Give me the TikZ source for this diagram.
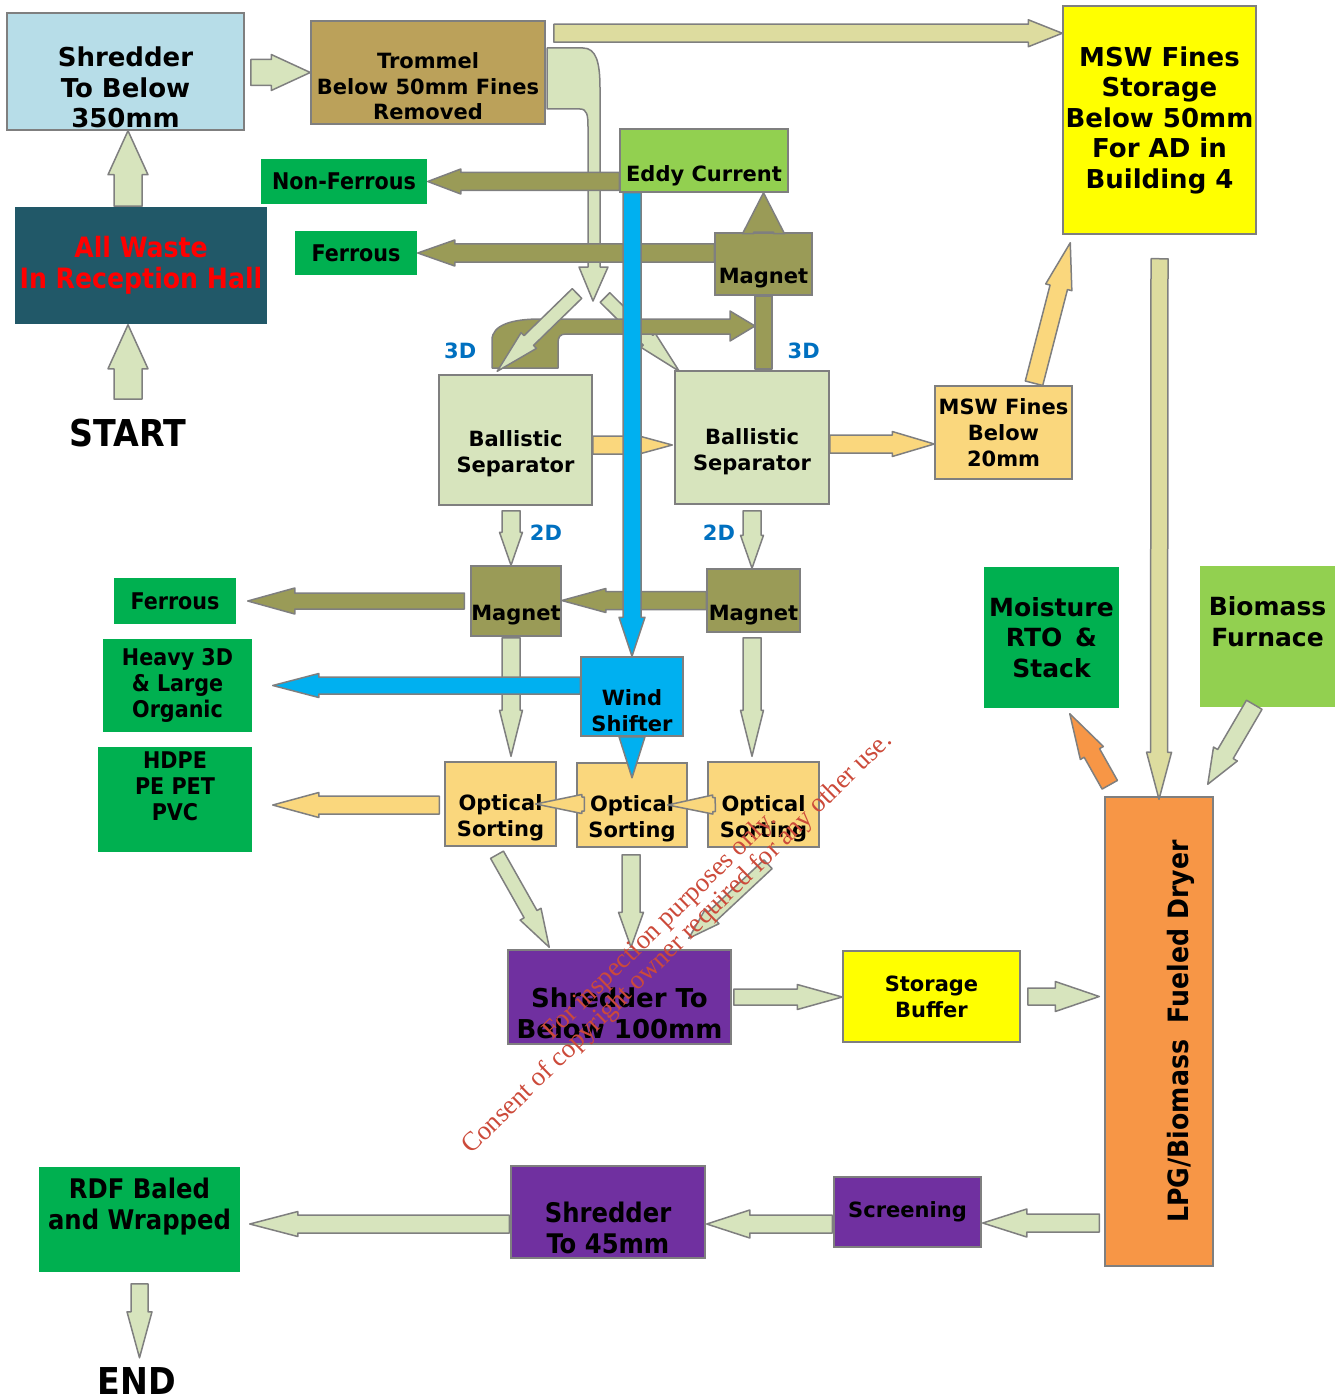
\documentclass[tikz,border=0pt]{standalone}
\usepackage{fontspec}
\usepackage{graphicx}
\setmainfont{DejaVu Sans}
\newfontfamily\narrowfont{DejaVu Sans Condensed}
\newfontfamily\stampfont{Liberation Serif}
\usepackage{tikz}
\usetikzlibrary{calc}

\definecolor{shredblue}{HTML}{B7DDE8}
\definecolor{trommeltan}{HTML}{BBA15A}
\definecolor{hallteal}{HTML}{215868}
\definecolor{sortgreen}{HTML}{00B050}
\definecolor{limegreen}{HTML}{92D050}
\definecolor{magolive}{HTML}{9A9B57}
\definecolor{palegreen}{HTML}{D7E4BD}
\definecolor{fineyellow}{HTML}{FAD77D}
\definecolor{storeyellow}{HTML}{FFFF00}
\definecolor{windblue}{HTML}{00B0F0}
\definecolor{shredpurple}{HTML}{7030A0}
\definecolor{dryerorange}{HTML}{F79646}
\definecolor{khaki}{HTML}{DDDC9F}
\definecolor{tagblue}{HTML}{0070C0}
\definecolor{edgegray}{HTML}{7F7F7F}
\definecolor{stampred}{HTML}{CC4A3A}

% block arrow: [fill]{tail}{tip}{shaft half width}{head half width}{head length}
\newcommand{\flow}[6][]{%
  \coordinate (ft) at (#2);
  \coordinate (fh) at (#3);
  \coordinate (fn) at ($(fh)!#6pt!(ft)$);
  \draw[flowline,#1] ($(ft)!#4pt!90:(fh)$) -- ($(fn)!#4pt!90:(fh)$)
    -- ($(fn)!#5pt!90:(fh)$) -- (fh) -- ($(fn)!#5pt!-90:(fh)$)
    -- ($(fn)!#4pt!-90:(fh)$) -- ($(ft)!#4pt!-90:(fh)$) -- cycle;
}

\begin{document}
\begin{tikzpicture}[x=0.5pt,y=-0.5pt,
    box/.style={draw=edgegray, line width=0.75pt, align=center, inner sep=0pt},
    flat/.style={box, draw=none},
    txtbig/.style={font=\fontsize{13}{15.25}\selectfont\bfseries},
    txtsmall/.style={font=\fontsize{10.5}{13}\selectfont\bfseries},
    txtnarrow/.style={font=\narrowfont\fontsize{11.5}{13}\selectfont\bfseries},
    txtnarrowbig/.style={font=\narrowfont\fontsize{13.5}{15.5}\selectfont\bfseries},
    txtend/.style={font=\narrowfont\fontsize{18.5}{20}\selectfont\bfseries, inner sep=0pt},
    tag/.style={text=tagblue, font=\fontsize{10.5}{12}\selectfont\bfseries},
    flowline/.style={draw=edgegray, line width=0.75pt, line join=round}]
\useasboundingbox (0,0) rectangle (1338,1396);

\node[box, fill=shredblue, txtbig, minimum width=118.5pt, minimum height=58.5pt] (shred350) at (125.5,71.5) {\strut\\Shredder\\To Below\\350mm};
\node[box, fill=trommeltan, font=\fontsize{10.5}{12.75}\selectfont\bfseries, minimum width=117pt, minimum height=51.5pt] (trommel) at (428,72.5) {\strut\\Trommel\\Below 50mm Fines\\Removed};
\node[flat, fill=hallteal, text=red, font=\narrowfont\fontsize{14}{15.5}\selectfont\bfseries, minimum width=126pt, minimum height=58.5pt] (hall) at (141,265.5) {All Waste\\In Reception Hall\rule{0pt}{0pt}};
\node[txtend] (start) at (128,433) {START};
\node[flat, fill=sortgreen, txtnarrow, minimum width=83pt, minimum height=22.5pt] (nonfe) at (344,181.5) {Non-Ferrous};
\node[flat, fill=sortgreen, txtnarrow, minimum width=61pt, minimum height=22pt] (fe1) at (356,253) {Ferrous};
\node[box, fill=limegreen, font=\fontsize{10.5}{13.5}\selectfont\bfseries, minimum width=84pt, minimum height=31.5pt] (eddy) at (704,160.5) {\strut\\Eddy Current};
\node[box, fill=magolive, txtsmall, minimum width=48.5pt, minimum height=31pt] (mag1) at (763.5,264) {\strut\\Magnet};
\node[box, fill=palegreen, txtsmall, minimum width=76.5pt, minimum height=65pt] (ballL) at (515.5,440) {\strut\\Ballistic\\Separator};
\node[box, fill=palegreen, txtsmall, minimum width=77pt, minimum height=66.5pt] (ballR) at (752,437.5) {\strut\\Ballistic\\Separator};
\node[box, fill=fineyellow, txtsmall, minimum width=68.5pt, minimum height=46.5pt] (fines) at (1003.5,432.5) {MSW Fines\\Below\\20mm};
\node[box, fill=storeyellow, txtbig, minimum width=96.5pt, minimum height=114pt] (finestore) at (1159.5,120) {MSW Fines\\Storage\\Below 50mm\\For AD in\\Building 4\rule{0pt}{0pt}};
\node[box, fill=magolive, txtsmall, minimum width=45pt, minimum height=35pt] (mag2) at (516,601) {\strut\\Magnet};
\node[box, fill=magolive, txtsmall, minimum width=46.5pt, minimum height=31.5pt] (mag3) at (753.5,600.5) {\strut\\Magnet};
\node[flat, fill=sortgreen, txtnarrow, minimum width=61pt, minimum height=23pt] (fe2) at (175,601) {Ferrous};
\node[flat, fill=sortgreen, txtnarrow, minimum width=74.5pt, minimum height=46.5pt] (heavy) at (177.5,685.5) {Heavy 3D\\\& Large\\Organic};
\node[flat, fill=sortgreen, txtnarrow, minimum width=77pt, minimum height=52.5pt] (plastic) at (175,799.5) {HDPE\\PE PET\\PVC\\\mbox{}};
\node[box, fill=windblue, txtsmall, minimum width=51pt, minimum height=39.5pt] (wind) at (632,696.5) {\strut\\Wind\\Shifter};
\node[box, fill=fineyellow, txtsmall, minimum width=55.5pt, minimum height=42pt] (opt1) at (500.5,804) {\strut\\Optical\\Sorting};
\node[box, fill=fineyellow, txtsmall, minimum width=55pt, minimum height=42pt] (opt2) at (632,805) {\strut\\Optical\\Sorting};
\node[box, fill=fineyellow, txtsmall, minimum width=55.5pt, minimum height=42.5pt] (opt3) at (763.5,804.5) {\strut\\Optical\\Sorting};
\node[box, fill=shredpurple, txtbig, minimum width=111.5pt, minimum height=47pt] (shred100) at (619.5,997) {\strut\\Shredder To\\Below 100mm};
\node[box, fill=storeyellow, txtsmall, minimum width=88.5pt, minimum height=45.5pt] (buffer) at (931.5,996.5) {Storage\\Buffer};
\node[flat, fill=sortgreen, font=\fontsize{12.5}{15.25}\selectfont\bfseries, minimum width=67.5pt, minimum height=70.5pt] (moisture) at (1051.5,637.5) {Moisture\\RTO \,\&\\Stack};
\node[flat, fill=limegreen, font=\fontsize{12.5}{15.25}\selectfont\bfseries, minimum width=67.5pt, minimum height=70.5pt] (biomass) at (1267.5,636.5) {Biomass\\Furnace\\\mbox{}};
\node[box, fill=dryerorange, font=\narrowfont\fontsize{14}{16}\selectfont\bfseries, minimum width=54pt, minimum height=234.5pt] (dryer) at (1159,1031.5) {\hspace*{22pt}\rotatebox{90}{LPG/Biomass\hspace{0.6em}Fueled Dryer}};
\node[box, fill=shredpurple, txtsmall, minimum width=73.5pt, minimum height=35pt] (screening) at (907.5,1212) {Screening};
\node[box, fill=shredpurple, txtnarrowbig, minimum width=97pt, minimum height=46pt] (shred45) at (608,1212) {\strut\\Shredder\\To 45mm};
\node[flat, fill=sortgreen, txtnarrowbig, minimum width=100.5pt, minimum height=52.5pt] (rdf) at (139.5,1219.5) {RDF Baled\\and Wrapped\\\mbox{}};
\node[txtend] (finish) at (137,1381) {END};

\node[tag] (tagL3) at ($(ballL.north west)+(22,-23)$) {3D};
\node[tag] (tagR3) at ($(ballR.north east)+(-26,-19)$) {3D};
\node[tag] (tagL2) at ($(ballL.south)+(30.5,27)$) {2D};
\node[tag] (tagR2) at ($(ballR.south)+(-33,28)$) {2D};

\flow[fill=palegreen]{$(start.north)+(0,-19.5)$}{start |- hall.south}{7}{10}{22}
\flow[fill=palegreen]{start |- hall.north}{start |- shred350.south}{7}{10}{22}
\flow[fill=palegreen]{$(shred350.east)+(6,1)$}{trommel.west}{6.5}{9}{19.5}

% trommel fines chute
\coordinate (split) at (593,301);
\draw[flowline, fill=palegreen] (547,48) -- (583,48) .. controls (596,48) and (600,62) .. (600,88)
  -- (600,267) -- (608,267) -- (split) -- (579,267) -- (588,267) -- (588,127)
  .. controls (588,115) and (587,109) .. (580,109) -- (547,109) -- cycle;

\coordinate (topflow) at ($(trommel.north east)+(8,13)$);
\flow[fill=khaki]{topflow}{topflow -| finestore.west}{4.5}{6.75}{17}
\flow[fill=magolive]{eddy.west |- nonfe.east}{nonfe.east}{4.5}{6.25}{16.5}
\flow[fill=magolive]{mag1.west |- fe1.east}{fe1.east}{4.5}{6.5}{18.5}
\flow[fill=magolive]{mag1.north}{mag1.north |- eddy.south}{5}{10.5}{20.5}
\draw[flowline, fill=magolive] ($(mag1.south)+(-8.5,0)$) rectangle ($(mag1.south)+(8.5,73)$);

\flow[fill=palegreen]{$(split)+(12,-3.5)$}{$(ballR.north west)+(5,1)$}{3.4}{5}{22}
% 3D return band
\draw[flowline, fill=magolive] (492,368) -- (492,340) .. controls (492,325) and (512,319) .. (540,319)
  -- (730,319) -- (730,311) -- (755,326) -- (730,341) -- (730,334) -- (566,334)
  .. controls (560,334) and (558,337) .. (558,343) -- (558,368) -- cycle;
\flow[fill=palegreen]{$(split)+(-16,-7.5)$}{$(ballL.north west)+(59,-3)$}{3.4}{5.5}{22}

\flow[fill=fineyellow]{$(ballL.east)+(0,5)$}{$(ballR.west)+(-2,7.5)$}{4.5}{6.25}{23}
\flow[fill=fineyellow]{$(ballR.east)+(0,6.5)$}{$(fines.west)+(0,11.5)$}{4.5}{6.25}{21}
\flow[fill=fineyellow]{$(fines.north)+(30.5,-2)$}{$(finestore.south west)+(8,8)$}{4.5}{6.75}{23}
\flow[fill=khaki]{$(finestore.south)+(0,24)$}{$(dryer.north)+(0,3)$}{4.25}{6.25}{23.5}
\flow[fill=dryerorange]{$(dryer.north west)+(5.5,-11.5)$}{$(moisture.south east)+(-50,5)$}{4.4}{6.6}{22.5}
\flow[fill=palegreen]{$(biomass.south west)+(55,-3)$}{$(dryer.north east)+(-6,-12)$}{4.5}{6.9}{17.5}
\flow[fill=palegreen]{$(buffer.east)+(7,0)$}{$(dryer.west |- buffer.east)+(-5,0)$}{4.25}{7.5}{22}
\flow[fill=palegreen]{$(shred100.east)+(2,0)$}{shred100.east -| buffer.west}{4}{6.25}{22.5}
\flow[fill=palegreen]{$(dryer.west |- screening.east)+(-5,11)$}{$(screening.east)+(1,11)$}{4.5}{7}{22}
\flow[fill=palegreen]{$(screening.west)+(-1,12)$}{$(shred45.east)+(1,12)$}{4.5}{7}{21.5}
\flow[fill=palegreen]{$(shred45.west)+(-1,12)$}{$(rdf.east)+(9,4.5)$}{4.5}{6.25}{24}
\flow[fill=palegreen]{$(rdf.south)+(0,11)$}{$(rdf.south)+(0,85)$}{4.25}{6.25}{23}

\flow[fill=palegreen]{$(ballL.south)+(-4.5,5)$}{$(mag2.north)+(-5,0)$}{4.5}{5.75}{16.5}
\flow[fill=palegreen]{$(ballR.south)+(0,6)$}{$(mag3.north)+(-1.5,0)$}{4.5}{5.75}{16.5}
\flow[fill=palegreen]{$(mag2.south)+(-5,1)$}{$(opt1.north)+(10.5,-5)$}{4.5}{5.75}{23}
\flow[fill=palegreen]{$(mag3.south)+(-1.5,5)$}{$(opt3.north)+(-11.5,-5)$}{4.5}{5.75}{23}
\flow[fill=magolive]{mag3.west}{mag3.west -| mag2.east}{4.5}{6}{22}
\flow[fill=magolive]{$(mag2.west)+(-6,0)$}{$(fe2.east)+(11,0)$}{4}{6.5}{23.5}
\flow[fill=fineyellow]{$(opt3.west)+(8,0)$}{$(opt2.east)+(-20,0)$}{3.5}{4.75}{22.5}
\flow[fill=fineyellow]{$(opt2.west)+(8,-1)$}{$(opt1.east)+(-21,0)$}{3.5}{4.75}{23}
\flow[fill=fineyellow]{$(opt1.west)+(-5,1)$}{$(plastic.east)+(20,5.5)$}{4.5}{6.25}{23}
\flow[fill=palegreen]{$(opt1.south)+(-3.5,8)$}{$(shred100.north west)+(42,-2)$}{3.7}{6}{19}
\flow[fill=palegreen]{$(opt2.south)+(-1,7)$}{$(shred100.north)+(11.5,-2)$}{4.5}{6.25}{17.5}
\flow[fill=palegreen]{$(opt3.south)+(4.5,16.5)$}{$(shred100.north east)+(-43,-11)$}{3}{5}{16}

\flow[fill=windblue]{wind.north |- eddy.south}{wind.north}{4.5}{6.5}{19.5}
\flow[fill=windblue]{wind.west |- heavy.east}{$(heavy.east)+(20,0)$}{4.25}{6}{23}
\flow[fill=windblue]{wind.south}{$(wind.south)+(0,41)$}{4.5}{6.5}{20.5}

\node[rotate=44.4, text=stampred, align=center, font=\stampfont\fontsize{13.4}{12.5}\selectfont] (stamp) at (669,935) {For inspection purposes only.\\Consent of copyright owner required for any other use.};
\end{tikzpicture}
\end{document}
